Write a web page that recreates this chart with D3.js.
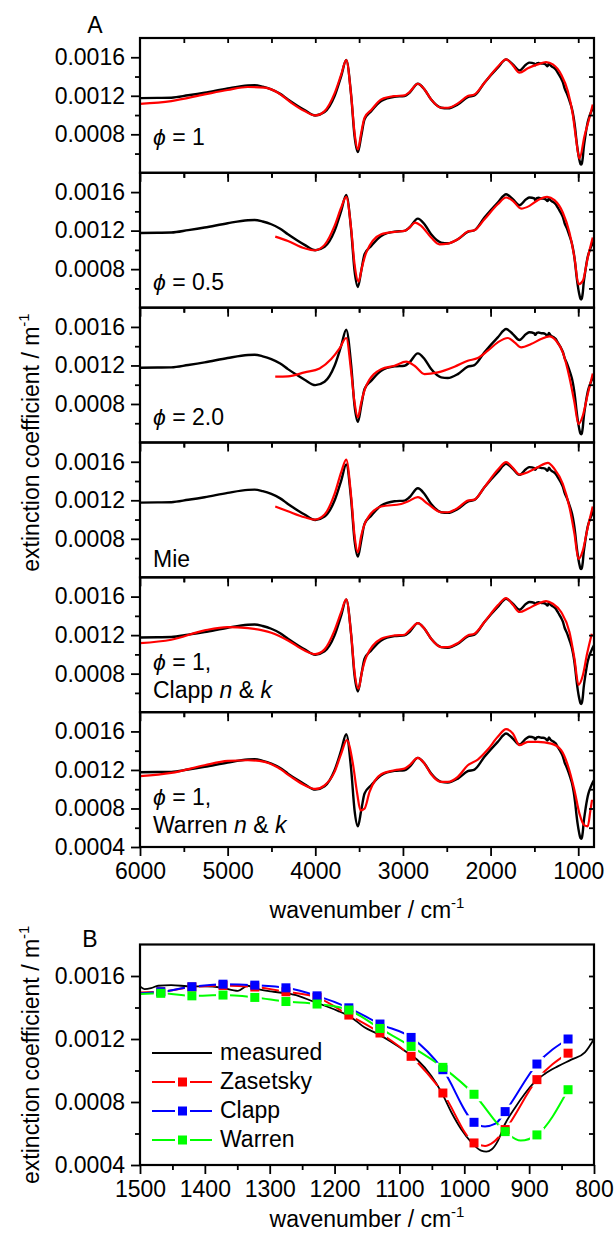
<!DOCTYPE html>
<html>
<head>
<meta charset="utf-8">
<script src="https://cdn.jsdelivr.net/npm/d3@7"></script>
<style>
  body { margin: 0; background: #fff; }
  text { font-family: Arial, "Liberation Sans", sans-serif; }
</style>
</head>
<body>
<svg id="chart" width="616" height="1233"></svg>
<script>
// measured spectrum [wavenumber, extinction]
const measured = [
  [6000,0.001176],[5800,0.001178],[5643,0.00118],[5450,0.001205],[5263,0.001232],[5000,0.001277],
  [4768,0.001308],[4692,0.001311],[4600,0.001295],[4502,0.001266],[4400,0.00122],[4312,0.001162],
  [4200,0.001095],[4122,0.001052],[4000,0.000996],[3894,0.001031],[3780,0.001197],[3704,0.001405],
  [3647,0.001571],[3590,0.001197],[3552,0.000781],[3514,0.000615],[3476,0.000781],[3438,0.000955],
  [3362,0.001041],[3248,0.001145],[3096,0.00119],[2982,0.001197],[2925,0.001232],[2830,0.001325],
  [2754,0.001266],[2678,0.001162],[2564,0.001076],[2488,0.001069],[2374,0.00111],[2260,0.001187],
  [2184,0.001204],[2070,0.001336],[1918,0.001492],[1822,0.001578],[1746,0.001526],[1670,0.001464],
  [1594,0.001526],[1556,0.001544],[1500,0.001534],[1493,0.001517],[1483,0.001523],[1472,0.001538],
  [1452,0.001542],[1421,0.001534],[1400,0.001534],[1375,0.001527],[1349,0.001506],[1334,0.001538],
  [1318,0.001517],[1298,0.001502],[1277,0.001491],[1256,0.001474],[1236,0.001443],[1215,0.001411],
  [1195,0.001379],[1174,0.001337],[1154,0.001274],[1133,0.001231],[1113,0.001183],[1092,0.001126],
  [1071,0.001062],[1051,0.000967],[1035,0.000861],[1020,0.000735],[1005,0.000629],[989,0.000544],
  [974,0.000491],[966,0.000485],[958,0.000498],[948,0.000555],[938,0.000654],[922,0.000762],
  [907,0.000851],[892,0.000925],[876,0.000978],[856,0.001026],[835,0.001069],[814,0.001115],[800,0.0012]
];

// model fits for panel A
const fitPhi1 = [
  [6000,0.001117],[5643,0.001145],[5263,0.001214],[5000,0.00126],[4768,0.001291],[4578,0.001284],
  [4426,0.001232],[4274,0.001128],[4122,0.001041],[4000,0.000996],[3894,0.001041],[3780,0.001225],
  [3704,0.001422],[3647,0.001571],[3590,0.001197],[3552,0.000816],[3514,0.000643],[3476,0.000816],
  [3438,0.000972],[3362,0.001052],[3248,0.001162],[3096,0.001197],[2982,0.001204],[2925,0.001239],
  [2830,0.001325],[2754,0.001266],[2678,0.001162],[2564,0.001076],[2488,0.001076],[2374,0.001121],
  [2260,0.001197],[2184,0.001214],[2070,0.001336],[1918,0.001502],[1822,0.001578],[1746,0.001516],
  [1670,0.00144],[1575,0.001485],[1461,0.001526],[1367,0.00155],[1290,0.001526],[1195,0.001422],
  [1119,0.001249],[1062,0.001006],[1024,0.000747],[986,0.000546],[929,0.000781],[872,0.000972],[834,0.00111]
];
const fitPhi05 = [
  [4457,0.001138],[4312,0.001093],[4122,0.001017],[4008,0.000996],[3894,0.001052],[3780,0.001249],
  [3704,0.00144],[3647,0.00155],[3590,0.001214],[3552,0.000851],[3506,0.00067],[3468,0.000816],
  [3419,0.000972],[3248,0.001162],[3096,0.001187],[2982,0.001197],[2925,0.001232],[2860,0.001284],
  [2792,0.001249],[2678,0.001128],[2583,0.001058],[2488,0.001065],[2374,0.00111],[2260,0.00119],
  [2184,0.001204],[2070,0.001318],[1918,0.001474],[1822,0.001544],[1746,0.001509],[1651,0.001429],
  [1556,0.001457],[1461,0.001516],[1355,0.00155],[1271,0.001516],[1176,0.001388],[1100,0.00118],
  [1043,0.00092],[997,0.000643],[948,0.000678],[891,0.00092],[834,0.001128]
];
const fitPhi2 = [
  [4457,0.001083],[4312,0.001086],[4122,0.001128],[3951,0.001169],[3818,0.001266],[3723,0.001377],
  [3647,0.001485],[3590,0.001128],[3552,0.000816],[3514,0.00066],[3476,0.000816],[3419,0.000989],
  [3248,0.001162],[3096,0.001197],[2963,0.001239],[2868,0.001197],[2754,0.00111],[2602,0.001128],
  [2412,0.001187],[2260,0.001249],[2146,0.001277],[2032,0.001353],[1918,0.00144],[1803,0.001485],
  [1727,0.00144],[1651,0.001388],[1538,0.001422],[1424,0.001474],[1329,0.001502],[1252,0.001457],
  [1176,0.001336],[1100,0.001076],[1043,0.000816],[997,0.000591],[948,0.000678],[891,0.000903],[834,0.001117]
];
const fitMie = [
  [4457,0.001135],[4312,0.001086],[4122,0.001024],[4008,0.001],[3894,0.001052],[3780,0.001266],
  [3704,0.001492],[3647,0.001623],[3590,0.001232],[3552,0.000833],[3514,0.00066],[3476,0.000833],
  [3419,0.000989],[3248,0.001135],[3020,0.001162],[2944,0.001187],[2830,0.001232],[2716,0.001162],
  [2564,0.001076],[2488,0.001076],[2374,0.001121],[2260,0.001197],[2184,0.001207],[2070,0.001336],
  [1918,0.001516],[1822,0.001596],[1746,0.001537],[1670,0.001467],[1575,0.001492],[1461,0.001544],
  [1347,0.001589],[1271,0.001526],[1176,0.00137],[1100,0.001128],[1043,0.000851],[997,0.000591],
  [948,0.000678],[891,0.00092],[834,0.001135]
];
const fitClappA = [
  [6000,0.001117],[5643,0.001152],[5263,0.001249],[5000,0.001284],[4768,0.001273],[4502,0.001225],
  [4312,0.001145],[4122,0.001041],[4000,0.001003],[3894,0.001052],[3780,0.001249],[3704,0.00144],
  [3647,0.001571],[3590,0.001197],[3552,0.000816],[3506,0.000643],[3468,0.000816],[3419,0.000972],
  [3248,0.001162],[3096,0.001197],[2982,0.001204],[2925,0.001249],[2830,0.001325],[2754,0.001266],
  [2678,0.001162],[2564,0.001076],[2488,0.001076],[2374,0.001117],[2260,0.001197],[2184,0.001214],
  [2070,0.001336],[1918,0.001509],[1822,0.001585],[1746,0.001516],[1670,0.00144],[1575,0.001474],
  [1461,0.001526],[1367,0.001554],[1290,0.001526],[1195,0.00144],[1100,0.001232],[1043,0.000955],
  [997,0.000684],[948,0.000781],[899,0.001006],[845,0.001214]
];
const fitWarrenA = [
  [6000,0.001135],[5643,0.001169],[5263,0.001249],[5000,0.001294],[4768,0.001301],[4578,0.001284],
  [4426,0.001225],[4274,0.001128],[4122,0.001041],[4000,0.001003],[3894,0.001041],[3780,0.00118],
  [3704,0.00137],[3640,0.001509],[3571,0.001266],[3522,0.000955],[3484,0.000781],[3438,0.000799],
  [3381,0.000972],[3248,0.001155],[3096,0.001197],[2982,0.001214],[2925,0.001249],[2830,0.001325],
  [2754,0.001266],[2678,0.001155],[2564,0.001076],[2488,0.001076],[2374,0.001128],[2260,0.001249],
  [2146,0.001308],[2032,0.001412],[1918,0.001544],[1822,0.001623],[1746,0.001578],[1670,0.001457],
  [1575,0.001492],[1461,0.001492],[1309,0.001474],[1195,0.001405],[1119,0.001249],[1043,0.000989],
  [986,0.000747],[929,0.000625],[891,0.000615],[861,0.000781],[842,0.000892]
];
const fitsA = [fitPhi1, fitPhi05, fitPhi2, fitMie, fitClappA, fitWarrenA];
const panelLabels = [["ϕ = 1"], ["ϕ = 0.5"], ["ϕ = 2.0"], ["Mie"], ["ϕ = 1,", "Clapp n & k"], ["ϕ = 1,", "Warren n & k"]];

// panel B: model values at the symbol positions
const markerWn = [1468, 1420, 1372, 1323, 1275, 1227, 1178, 1130, 1082, 1033, 985, 937, 888, 840];
const zasetsky = [0.0015, 0.00153, 0.00154, 0.00153, 0.0015, 0.001464, 0.001352, 0.001238, 0.00109, 0.000857, 0.00054, 0.000625, 0.000942, 0.00111];
const clapp    = [0.0015, 0.001532, 0.001548, 0.001542, 0.001525, 0.001474, 0.001398, 0.001295, 0.00121, 0.001005, 0.000671, 0.000739, 0.001041, 0.0012];
const warren   = [0.00149, 0.001474, 0.001479, 0.001464, 0.001438, 0.001422, 0.001384, 0.001267, 0.001153, 0.00102, 0.000849, 0.000612, 0.000591, 0.000878];
// extra points of the model curves between symbols
const zasetskyExtra = [[1500, 0.001496], [968, 0.00052], [955, 0.000545]];
const clappExtra    = [[1500, 0.00149], [968, 0.000645], [952, 0.000662]];
const warrenExtra   = [[1500, 0.001485], [913, 0.000555]];
const seriesB = [
  {name: "Zasetsky", color: "#ff0000", values: zasetsky, extra: zasetskyExtra},
  {name: "Clapp",    color: "#0000ff", values: clapp,    extra: clappExtra},
  {name: "Warren",   color: "#00ff00", values: warren,   extra: warrenExtra}
];

const yMajorA = [0.0008, 0.0012, 0.0016];
const yMajorB = [0.0004, 0.0008, 0.0012, 0.0016];
const yMinor = [0.0006, 0.001, 0.0014];
const yInner = [0.0006, 0.0008, 0.001, 0.0012, 0.0014, 0.0016];
const xMajorA = [6000, 5000, 4000, 3000, 2000, 1000];
const xMinorA = [5500, 4500, 3500, 2500, 1500];
const xTopA = [5500, 5000, 4500, 4000, 3500, 3000, 2500, 2000, 1500, 1000];
const xMajorB = [1500, 1400, 1300, 1200, 1100, 1000, 900, 800];
const xMinorB = [1450, 1350, 1250, 1150, 1050, 950, 850];

// layout
const FONT = "Arial, 'Liberation Sans', sans-serif";
const left = 140, right = 594;
const aTop = 38, aBottom = 847;
const panelH = (aBottom - aTop) / 6;
const bTop = 944.5, bBottom = 1165;
const labelOffsets = [[107], [117], [117], [124], [93, 121], [93, 121]];

const svg = d3.select("#chart");
const defs = svg.append("defs");
const xA = d3.scaleLinear().domain([6000, 820]).range([left, right]);
const xB = d3.scaleLinear().domain([1500, 800]).range([left, right]);
const fmtY = d3.format(".4f");

function addAxis(g, axis, tx, ty) {
  g.append("g")
    .attr("transform", `translate(${tx},${ty})`)
    .call(axis)
    .attr("font-size", 23)
    .attr("font-family", FONT)
    .call(s => s.select(".domain").remove())
    .call(s => s.selectAll("line").attr("stroke", "#000").attr("stroke-width", 1.8))
    .call(s => s.selectAll("text").attr("fill", "#000"));
}

function frame(g, x0, y0, x1, y1) {
  g.append("rect")
    .attr("x", x0).attr("y", y0)
    .attr("width", x1 - x0).attr("height", y1 - y0)
    .attr("fill", "none").attr("stroke", "#000").attr("stroke-width", 2.2);
}

function italicLabel(textSel, str) {
  str.split(/(ϕ|\bn\b|\bk\b)/).filter(d => d.length).forEach(part => {
    const t = textSel.append("tspan").text(part);
    if (part === "ϕ" || part === "n" || part === "k") t.attr("font-style", "italic");
  });
}

// ---- panel A ----
panelLabels.forEach((lab, k) => {
  const top = aTop + k * panelH, bottom = top + panelH;
  const y = d3.scaleLinear().domain([0.0004, 0.0018]).range([bottom, top]);
  const g = svg.append("g");
  const clipId = "clipA" + k;
  defs.append("clipPath").attr("id", clipId)
    .append("rect").attr("x", left).attr("y", top).attr("width", right - left).attr("height", panelH);

  const line = d3.line().x(d => xA(d[0])).y(d => y(d[1])).curve(d3.curveMonotoneX);
  const plot = g.append("g").attr("clip-path", `url(#${clipId})`);
  plot.append("path").datum(measured).attr("d", line)
    .attr("fill", "none").attr("stroke", "#000").attr("stroke-width", 2.4);
  plot.append("path").datum(fitsA[k]).attr("d", line)
    .attr("fill", "none").attr("stroke", "#ff0000").attr("stroke-width", 2.2);

  const last = k === 5;
  addAxis(g, d3.axisLeft(y).tickValues(last ? yMajorB : yMajorA).tickFormat(fmtY).tickSize(9).tickPadding(6), left, 0);
  addAxis(g, d3.axisLeft(y).tickValues(yMinor).tickFormat("").tickSize(5), left, 0);
  addAxis(g, d3.axisRight(y).tickValues(yInner).tickFormat("").tickSize(-5), right, 0);
  addAxis(g, d3.axisTop(xA).tickValues(xTopA).tickFormat("").tickSize(-5), 0, top);
  addAxis(g, d3.axisBottom(xA).tickValues(xMajorA).tickFormat(last ? d3.format("d") : "").tickSize(9).tickPadding(7), 0, bottom);
  addAxis(g, d3.axisBottom(xA).tickValues(xMinorA).tickFormat("").tickSize(5), 0, bottom);
  frame(g, left, top, right, bottom);

  lab.forEach((str, i) => {
    const t = g.append("text").attr("x", 153).attr("y", top + labelOffsets[k][i])
      .attr("font-size", 23).attr("fill", "#000");
    italicLabel(t, str);
  });
});

// ---- panel B ----
const yB = d3.scaleLinear().domain([0.0004, 0.0018]).range([bBottom, bTop]);
const gB = svg.append("g");
defs.append("clipPath").attr("id", "clipB")
  .append("rect").attr("x", left).attr("y", bTop).attr("width", right - left).attr("height", bBottom - bTop);
const lineB = d3.line().x(d => xB(d[0])).y(d => yB(d[1])).curve(d3.curveMonotoneX);
const plotB = gB.append("g").attr("clip-path", "url(#clipB)");
plotB.append("path").datum(measured.filter(d => d[0] <= 1500)).attr("d", lineB)
  .attr("fill", "none").attr("stroke", "#000").attr("stroke-width", 1.8);

seriesB.forEach((s, si) => {
  const marks = markerWn.map((w, i) => [w, s.values[i]]);
  const pts = marks.concat(s.extra).sort((a, b) => b[0] - a[0]);
  // Origin-style gap in the line around each symbol
  const mask = defs.append("mask").attr("id", "gap" + si)
    .attr("maskUnits", "userSpaceOnUse").attr("x", 0).attr("y", 0).attr("width", 616).attr("height", 1233);
  mask.append("rect").attr("width", 616).attr("height", 1233).attr("fill", "#fff");
  mask.selectAll(null).data(marks).join("rect")
    .attr("x", d => xB(d[0]) - 7).attr("y", d => yB(d[1]) - 7)
    .attr("width", 14).attr("height", 14).attr("fill", "#000");
  plotB.append("path").datum(pts).attr("d", lineB).attr("mask", `url(#gap${si})`)
    .attr("fill", "none").attr("stroke", s.color).attr("stroke-width", 2);
  plotB.selectAll(null).data(marks).join("rect")
    .attr("x", d => xB(d[0]) - 4.5).attr("y", d => yB(d[1]) - 4.5)
    .attr("width", 9).attr("height", 9).attr("fill", s.color);
});

addAxis(gB, d3.axisLeft(yB).tickValues(yMajorB).tickFormat(fmtY).tickSize(9).tickPadding(6), left, 0);
addAxis(gB, d3.axisLeft(yB).tickValues(yMinor).tickFormat("").tickSize(5), left, 0);
addAxis(gB, d3.axisRight(yB).tickValues(yInner).tickFormat("").tickSize(-5), right, 0);
addAxis(gB, d3.axisBottom(xB).tickValues(xMajorB).tickFormat(d3.format("d")).tickSize(9).tickPadding(7), 0, bBottom);
addAxis(gB, d3.axisBottom(xB).tickValues(xMinorB).tickFormat("").tickSize(5), 0, bBottom);
frame(gB, left, bTop, right, bBottom);

// legend
const legendItems = [{name: "measured", color: "#000", marker: false}]
  .concat(seriesB.map(s => ({name: s.name, color: s.color, marker: true})));
legendItems.forEach((d, i) => {
  const ly = 1053 + i * 29;
  const lg = gB.append("g");
  if (d.marker) {
    lg.append("line").attr("x1", 152).attr("x2", 175).attr("y1", ly).attr("y2", ly).attr("stroke", d.color).attr("stroke-width", 2);
    lg.append("line").attr("x1", 190).attr("x2", 212).attr("y1", ly).attr("y2", ly).attr("stroke", d.color).attr("stroke-width", 2);
    lg.append("rect").attr("x", 178).attr("y", ly - 4.5).attr("width", 9).attr("height", 9).attr("fill", d.color);
  } else {
    lg.append("line").attr("x1", 152).attr("x2", 212).attr("y1", ly).attr("y2", ly).attr("stroke", d.color).attr("stroke-width", 2);
  }
  lg.append("text").attr("x", 220).attr("y", ly + 7).attr("font-size", 23).attr("fill", "#000").text(d.name);
});

// ---- titles and axis labels ----
function axisTitle(x, y, rotate) {
  return svg.append("text")
    .attr("transform", `translate(${x},${y})` + (rotate ? " rotate(-90)" : ""))
    .attr("text-anchor", "middle").attr("font-size", 23).attr("fill", "#000");
}
function withSup(t, main) {
  t.append("tspan").text(main);
  t.append("tspan").attr("font-size", 15).attr("dy", -10).text("-1");
}
withSup(axisTitle(367, 918, false), "wavenumber / cm");
withSup(axisTitle(367, 1227, false), "wavenumber / cm");
withSup(axisTitle(39, (aTop + aBottom) / 2, true), "extinction coefficient / m");
withSup(axisTitle(39, (bTop + bBottom) / 2, true), "extinction coefficient / m");

svg.append("text").attr("x", 95).attr("y", 33).attr("text-anchor", "middle").attr("font-size", 23).text("A");
svg.append("text").attr("x", 90).attr("y", 947).attr("text-anchor", "middle").attr("font-size", 23).text("B");
</script>
</body>
</html>
